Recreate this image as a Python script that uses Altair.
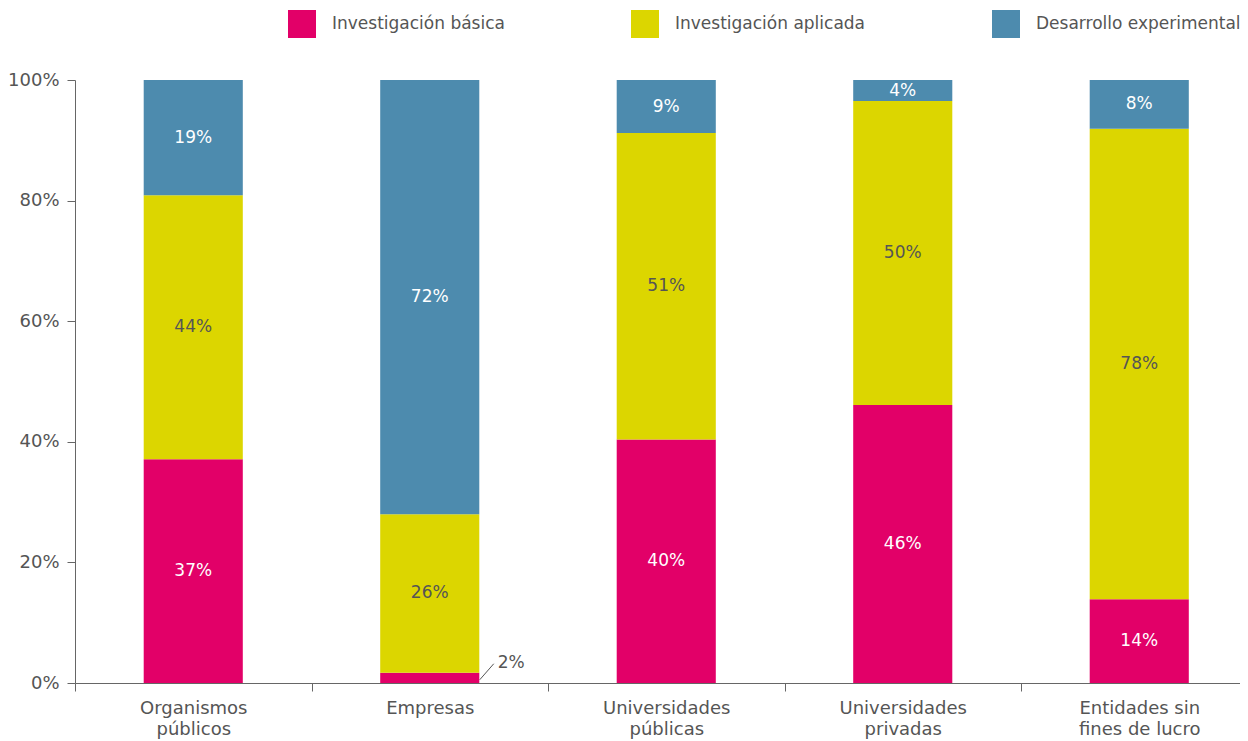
import json
import altair as alt
import pandas as pd

categories = ["Organismos públicos", "Empresas", "Universidades públicas",
              "Universidades privadas", "Entidades sin fines de lucro"]
label_lines = [["Organismos", "públicos"], ["Empresas"], ["Universidades", "públicas"],
               ["Universidades", "privadas"], ["Entidades sin", "fines de lucro"]]
series = ["Investigación básica", "Investigación aplicada", "Desarrollo experimental"]
basica = [37.1, 1.7, 40.4, 46.1, 13.9]
aplicada = [43.8, 26.3, 50.8, 50.4, 78.0]
desarrollo = [19.1, 72.0, 8.8, 3.5, 8.1]
colors = ["#E20068", "#DCD600", "#4D8BAE"]
text_colors = ["#FFFFFF", "#555555", "#FFFFFF"]

rows = []
for si, vals in enumerate([basica, aplicada, desarrollo]):
    for c, v in zip(categories, vals):
        rows.append({"cat": c, "serie": series[si], "order": si,
                     "share": v / 100.0, "tcolor": text_colors[si]})
df = pd.DataFrame(rows)

label_expr = " : ".join(
    f"datum.value == {json.dumps(c, ensure_ascii=False)} ? {json.dumps(l, ensure_ascii=False)}"
    for c, l in zip(categories, label_lines)
) + " : datum.label"

FONT = "DejaVu Sans"
GRAY = "#555555"
AXIS = "#666666"
HALF_STEP = 118.25

x = alt.X("cat:N", sort=categories,
          scale=alt.Scale(paddingInner=0.581, paddingOuter=0.2535, align=0.573),
          axis=alt.Axis(title=None, labelExpr=label_expr, labelAngle=0,
                        tickOffset=-HALF_STEP, labelOffset=HALF_STEP,
                        labelFont=FONT, labelFontSize=18, labelColor=GRAY,
                        domainColor=AXIS, tickColor=AXIS, tickSize=8,
                        labelPadding=8, labelLineHeight=21))

base = alt.Chart(df).transform_stack(
    stack="share", groupby=["cat"], as_=["y0", "y1"],
    sort=[alt.SortField("order", order="ascending")]
).transform_calculate(mid="(datum.y0 + datum.y1) / 2")

yscale = alt.Scale(domain=[0, 1], nice=False)

bars = base.mark_bar().encode(
    x=x,
    y=alt.Y("y0:Q", scale=yscale,
            axis=alt.Axis(title=None, format=".0%", values=[0, 0.2, 0.4, 0.6, 0.8, 1.0],
                          grid=False, tickSize=8, labelPadding=8,
                          labelFont=FONT, labelFontSize=18, labelColor=GRAY,
                          domainColor=AXIS, tickColor=AXIS)),
    y2="y1:Q",
    color=alt.Color("serie:N", scale=alt.Scale(domain=series, range=colors),
                    legend=alt.Legend(title=None, orient="none", legendX=213, legendY=-70,
                                      direction="horizontal", symbolType="square",
                                      symbolSize=784, symbolStrokeWidth=0, symbolOpacity=1,
                                      labelFont=FONT, labelFontSize=17, labelColor=GRAY,
                                      labelOffset=16, columnPadding=126, labelLimit=400)),
)

labels = base.transform_filter("datum.share >= 0.03").mark_text(
    font=FONT, fontSize=17
).encode(
    x=x,
    y=alt.Y("mid:Q", scale=yscale),
    text=alt.Text("share:Q", format=".0%"),
    color=alt.Color("tcolor:N", scale=None),
)

small = base.transform_filter("datum.share < 0.03").mark_text(
    font=FONT, fontSize=17, align="left", dx=68, dy=-10, color=GRAY
).encode(
    x=x,
    y=alt.Y("y1:Q", scale=yscale),
    text=alt.Text("share:Q", format=".0%"),
)

leader = base.transform_filter("datum.share < 0.03").mark_rule(
    color=GRAY, strokeWidth=1, xOffset=50, x2Offset=64, yOffset=7, y2Offset=-9
).encode(
    x=x,
    x2=alt.X2("cat"),
    y=alt.Y("y1:Q", scale=yscale),
    y2=alt.Y2("y1"),
)

chart = alt.layer(bars, labels, small, leader).properties(
    width=1165, height=603,
    autosize=alt.AutoSizeParams(type="none"),
    padding={"left": 67, "top": 72, "right": 0, "bottom": 58},
).configure_view(stroke=None)

chart.save("out.html", embed_options={"renderer": "svg", "actions": False})
